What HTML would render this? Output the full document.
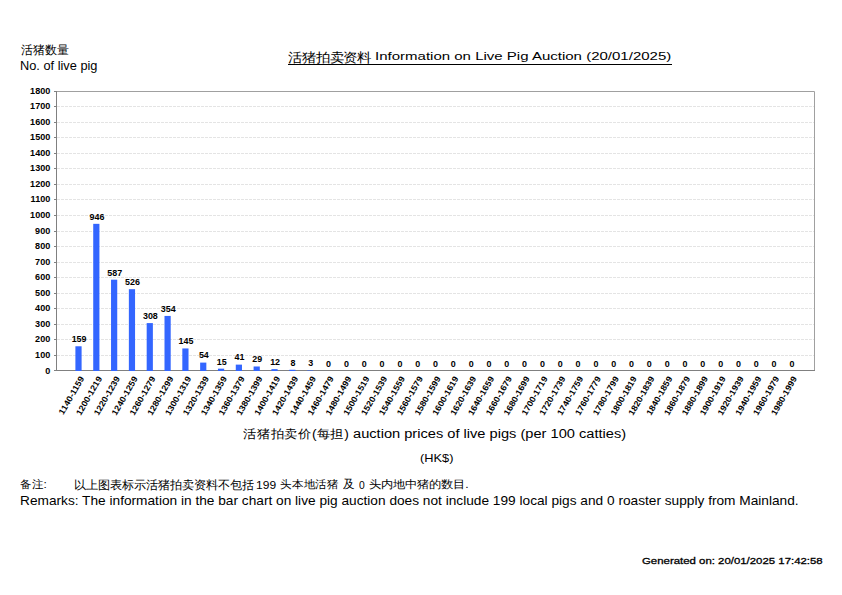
<!DOCTYPE html>
<html><head><meta charset="utf-8"><style>
html,body{margin:0;padding:0;background:#fff;width:842px;height:595px;overflow:hidden}
svg{position:absolute;left:0;top:0}
text{font-family:'Liberation Sans', sans-serif;fill:#000;font-size:8.5px;font-weight:bold}
</style></head><body>
<svg width="842" height="595" viewBox="0 0 842 595">
<line x1="57" y1="355.50" x2="814" y2="355.50" stroke="#e4e4e4" stroke-width="1" stroke-dasharray="3,1"/>
<line x1="57" y1="339.50" x2="814" y2="339.50" stroke="#e4e4e4" stroke-width="1" stroke-dasharray="3,1"/>
<line x1="57" y1="324.50" x2="814" y2="324.50" stroke="#e4e4e4" stroke-width="1" stroke-dasharray="3,1"/>
<line x1="57" y1="308.50" x2="814" y2="308.50" stroke="#e4e4e4" stroke-width="1" stroke-dasharray="3,1"/>
<line x1="57" y1="293.50" x2="814" y2="293.50" stroke="#e4e4e4" stroke-width="1" stroke-dasharray="3,1"/>
<line x1="57" y1="277.50" x2="814" y2="277.50" stroke="#e4e4e4" stroke-width="1" stroke-dasharray="3,1"/>
<line x1="57" y1="262.50" x2="814" y2="262.50" stroke="#e4e4e4" stroke-width="1" stroke-dasharray="3,1"/>
<line x1="57" y1="246.50" x2="814" y2="246.50" stroke="#e4e4e4" stroke-width="1" stroke-dasharray="3,1"/>
<line x1="57" y1="231.50" x2="814" y2="231.50" stroke="#e4e4e4" stroke-width="1" stroke-dasharray="3,1"/>
<line x1="57" y1="215.50" x2="814" y2="215.50" stroke="#e4e4e4" stroke-width="1" stroke-dasharray="3,1"/>
<line x1="57" y1="199.50" x2="814" y2="199.50" stroke="#e4e4e4" stroke-width="1" stroke-dasharray="3,1"/>
<line x1="57" y1="184.50" x2="814" y2="184.50" stroke="#e4e4e4" stroke-width="1" stroke-dasharray="3,1"/>
<line x1="57" y1="168.50" x2="814" y2="168.50" stroke="#e4e4e4" stroke-width="1" stroke-dasharray="3,1"/>
<line x1="57" y1="153.50" x2="814" y2="153.50" stroke="#e4e4e4" stroke-width="1" stroke-dasharray="3,1"/>
<line x1="57" y1="137.50" x2="814" y2="137.50" stroke="#e4e4e4" stroke-width="1" stroke-dasharray="3,1"/>
<line x1="57" y1="122.50" x2="814" y2="122.50" stroke="#e4e4e4" stroke-width="1" stroke-dasharray="3,1"/>
<line x1="57" y1="106.50" x2="814" y2="106.50" stroke="#e4e4e4" stroke-width="1" stroke-dasharray="3,1"/>
<path d="M56 91.5 H814.5 V370.5" fill="none" stroke="#a0a0a0" stroke-width="1"/>
<line x1="56.5" y1="91.0" x2="56.5" y2="371.0" stroke="#808080" stroke-width="1"/>
<line x1="56" y1="370.5" x2="815" y2="370.5" stroke="#808080" stroke-width="1"/>
<line x1="54" y1="370.5" x2="56" y2="370.5" stroke="#808080" stroke-width="1"/>
<text transform="translate(50.3,373.5) scale(1.07,1)" text-anchor="end" class="yl">0</text>
<line x1="54" y1="355.5" x2="56" y2="355.5" stroke="#808080" stroke-width="1"/>
<text transform="translate(50.3,357.9) scale(1.07,1)" text-anchor="end" class="yl">100</text>
<line x1="54" y1="339.5" x2="56" y2="339.5" stroke="#808080" stroke-width="1"/>
<text transform="translate(50.3,342.4) scale(1.07,1)" text-anchor="end" class="yl">200</text>
<line x1="54" y1="324.5" x2="56" y2="324.5" stroke="#808080" stroke-width="1"/>
<text transform="translate(50.3,326.8) scale(1.07,1)" text-anchor="end" class="yl">300</text>
<line x1="54" y1="308.5" x2="56" y2="308.5" stroke="#808080" stroke-width="1"/>
<text transform="translate(50.3,311.3) scale(1.07,1)" text-anchor="end" class="yl">400</text>
<line x1="54" y1="293.5" x2="56" y2="293.5" stroke="#808080" stroke-width="1"/>
<text transform="translate(50.3,295.7) scale(1.07,1)" text-anchor="end" class="yl">500</text>
<line x1="54" y1="277.5" x2="56" y2="277.5" stroke="#808080" stroke-width="1"/>
<text transform="translate(50.3,280.2) scale(1.07,1)" text-anchor="end" class="yl">600</text>
<line x1="54" y1="262.5" x2="56" y2="262.5" stroke="#808080" stroke-width="1"/>
<text transform="translate(50.3,264.6) scale(1.07,1)" text-anchor="end" class="yl">700</text>
<line x1="54" y1="246.5" x2="56" y2="246.5" stroke="#808080" stroke-width="1"/>
<text transform="translate(50.3,249.1) scale(1.07,1)" text-anchor="end" class="yl">800</text>
<line x1="54" y1="231.5" x2="56" y2="231.5" stroke="#808080" stroke-width="1"/>
<text transform="translate(50.3,233.5) scale(1.07,1)" text-anchor="end" class="yl">900</text>
<line x1="54" y1="215.5" x2="56" y2="215.5" stroke="#808080" stroke-width="1"/>
<text transform="translate(50.3,217.9) scale(1.07,1)" text-anchor="end" class="yl">1000</text>
<line x1="54" y1="199.5" x2="56" y2="199.5" stroke="#808080" stroke-width="1"/>
<text transform="translate(50.3,202.4) scale(1.07,1)" text-anchor="end" class="yl">1100</text>
<line x1="54" y1="184.5" x2="56" y2="184.5" stroke="#808080" stroke-width="1"/>
<text transform="translate(50.3,186.8) scale(1.07,1)" text-anchor="end" class="yl">1200</text>
<line x1="54" y1="168.5" x2="56" y2="168.5" stroke="#808080" stroke-width="1"/>
<text transform="translate(50.3,171.3) scale(1.07,1)" text-anchor="end" class="yl">1300</text>
<line x1="54" y1="153.5" x2="56" y2="153.5" stroke="#808080" stroke-width="1"/>
<text transform="translate(50.3,155.7) scale(1.07,1)" text-anchor="end" class="yl">1400</text>
<line x1="54" y1="137.5" x2="56" y2="137.5" stroke="#808080" stroke-width="1"/>
<text transform="translate(50.3,140.2) scale(1.07,1)" text-anchor="end" class="yl">1500</text>
<line x1="54" y1="122.5" x2="56" y2="122.5" stroke="#808080" stroke-width="1"/>
<text transform="translate(50.3,124.6) scale(1.07,1)" text-anchor="end" class="yl">1600</text>
<line x1="54" y1="106.5" x2="56" y2="106.5" stroke="#808080" stroke-width="1"/>
<text transform="translate(50.3,109.1) scale(1.07,1)" text-anchor="end" class="yl">1700</text>
<line x1="54" y1="91.5" x2="56" y2="91.5" stroke="#808080" stroke-width="1"/>
<text transform="translate(50.3,93.5) scale(1.07,1)" text-anchor="end" class="yl">1800</text>
<rect x="75.40" y="346.27" width="6.2" height="24.73" fill="#3366ff"/>
<text transform="translate(79.10,342.1) scale(1.05,1)" text-anchor="middle" class="vl">159</text>
<rect x="93.22" y="223.84" width="6.2" height="147.16" fill="#3366ff"/>
<text transform="translate(96.92,219.6) scale(1.05,1)" text-anchor="middle" class="vl">946</text>
<rect x="111.04" y="279.69" width="6.2" height="91.31" fill="#3366ff"/>
<text transform="translate(114.74,275.5) scale(1.05,1)" text-anchor="middle" class="vl">587</text>
<rect x="128.86" y="289.18" width="6.2" height="81.82" fill="#3366ff"/>
<text transform="translate(132.56,285.0) scale(1.05,1)" text-anchor="middle" class="vl">526</text>
<rect x="146.68" y="323.09" width="6.2" height="47.91" fill="#3366ff"/>
<text transform="translate(150.38,318.9) scale(1.05,1)" text-anchor="middle" class="vl">308</text>
<rect x="164.50" y="315.93" width="6.2" height="55.07" fill="#3366ff"/>
<text transform="translate(168.20,311.7) scale(1.05,1)" text-anchor="middle" class="vl">354</text>
<rect x="182.32" y="348.44" width="6.2" height="22.56" fill="#3366ff"/>
<text transform="translate(186.02,344.2) scale(1.05,1)" text-anchor="middle" class="vl">145</text>
<rect x="200.14" y="362.60" width="6.2" height="8.40" fill="#3366ff"/>
<text transform="translate(203.84,358.4) scale(1.05,1)" text-anchor="middle" class="vl">54</text>
<rect x="217.96" y="368.67" width="6.2" height="2.33" fill="#3366ff"/>
<text transform="translate(221.66,364.5) scale(1.05,1)" text-anchor="middle" class="vl">15</text>
<rect x="235.78" y="364.62" width="6.2" height="6.38" fill="#3366ff"/>
<text transform="translate(239.48,360.4) scale(1.05,1)" text-anchor="middle" class="vl">41</text>
<rect x="253.60" y="366.49" width="6.2" height="4.51" fill="#3366ff"/>
<text transform="translate(257.30,362.3) scale(1.05,1)" text-anchor="middle" class="vl">29</text>
<rect x="271.42" y="369.13" width="6.2" height="1.87" fill="#3366ff"/>
<text transform="translate(275.12,364.9) scale(1.05,1)" text-anchor="middle" class="vl">12</text>
<rect x="289.24" y="369.76" width="6.2" height="1.24" fill="#3366ff"/>
<text transform="translate(292.94,365.6) scale(1.05,1)" text-anchor="middle" class="vl">8</text>
<rect x="307.06" y="370.53" width="6.2" height="0.47" fill="#3366ff"/>
<text transform="translate(310.76,366.3) scale(1.05,1)" text-anchor="middle" class="vl">3</text>
<text transform="translate(328.58,366.8) scale(1.05,1)" text-anchor="middle" class="vl">0</text>
<text transform="translate(346.40,366.8) scale(1.05,1)" text-anchor="middle" class="vl">0</text>
<text transform="translate(364.22,366.8) scale(1.05,1)" text-anchor="middle" class="vl">0</text>
<text transform="translate(382.04,366.8) scale(1.05,1)" text-anchor="middle" class="vl">0</text>
<text transform="translate(399.86,366.8) scale(1.05,1)" text-anchor="middle" class="vl">0</text>
<text transform="translate(417.68,366.8) scale(1.05,1)" text-anchor="middle" class="vl">0</text>
<text transform="translate(435.50,366.8) scale(1.05,1)" text-anchor="middle" class="vl">0</text>
<text transform="translate(453.32,366.8) scale(1.05,1)" text-anchor="middle" class="vl">0</text>
<text transform="translate(471.14,366.8) scale(1.05,1)" text-anchor="middle" class="vl">0</text>
<text transform="translate(488.96,366.8) scale(1.05,1)" text-anchor="middle" class="vl">0</text>
<text transform="translate(506.78,366.8) scale(1.05,1)" text-anchor="middle" class="vl">0</text>
<text transform="translate(524.60,366.8) scale(1.05,1)" text-anchor="middle" class="vl">0</text>
<text transform="translate(542.42,366.8) scale(1.05,1)" text-anchor="middle" class="vl">0</text>
<text transform="translate(560.24,366.8) scale(1.05,1)" text-anchor="middle" class="vl">0</text>
<text transform="translate(578.06,366.8) scale(1.05,1)" text-anchor="middle" class="vl">0</text>
<text transform="translate(595.88,366.8) scale(1.05,1)" text-anchor="middle" class="vl">0</text>
<text transform="translate(613.70,366.8) scale(1.05,1)" text-anchor="middle" class="vl">0</text>
<text transform="translate(631.52,366.8) scale(1.05,1)" text-anchor="middle" class="vl">0</text>
<text transform="translate(649.34,366.8) scale(1.05,1)" text-anchor="middle" class="vl">0</text>
<text transform="translate(667.16,366.8) scale(1.05,1)" text-anchor="middle" class="vl">0</text>
<text transform="translate(684.98,366.8) scale(1.05,1)" text-anchor="middle" class="vl">0</text>
<text transform="translate(702.80,366.8) scale(1.05,1)" text-anchor="middle" class="vl">0</text>
<text transform="translate(720.62,366.8) scale(1.05,1)" text-anchor="middle" class="vl">0</text>
<text transform="translate(738.44,366.8) scale(1.05,1)" text-anchor="middle" class="vl">0</text>
<text transform="translate(756.26,366.8) scale(1.05,1)" text-anchor="middle" class="vl">0</text>
<text transform="translate(774.08,366.8) scale(1.05,1)" text-anchor="middle" class="vl">0</text>
<text transform="translate(791.90,366.8) scale(1.05,1)" text-anchor="middle" class="vl">0</text>
<text transform="translate(84.60,378.4) rotate(-60) scale(1.07,1)" text-anchor="end" class="xl">1140-1159</text>
<text transform="translate(102.42,378.4) rotate(-60) scale(1.07,1)" text-anchor="end" class="xl">1200-1219</text>
<text transform="translate(120.24,378.4) rotate(-60) scale(1.07,1)" text-anchor="end" class="xl">1220-1239</text>
<text transform="translate(138.06,378.4) rotate(-60) scale(1.07,1)" text-anchor="end" class="xl">1240-1259</text>
<text transform="translate(155.88,378.4) rotate(-60) scale(1.07,1)" text-anchor="end" class="xl">1260-1279</text>
<text transform="translate(173.70,378.4) rotate(-60) scale(1.07,1)" text-anchor="end" class="xl">1280-1299</text>
<text transform="translate(191.52,378.4) rotate(-60) scale(1.07,1)" text-anchor="end" class="xl">1300-1319</text>
<text transform="translate(209.34,378.4) rotate(-60) scale(1.07,1)" text-anchor="end" class="xl">1320-1339</text>
<text transform="translate(227.16,378.4) rotate(-60) scale(1.07,1)" text-anchor="end" class="xl">1340-1359</text>
<text transform="translate(244.98,378.4) rotate(-60) scale(1.07,1)" text-anchor="end" class="xl">1360-1379</text>
<text transform="translate(262.80,378.4) rotate(-60) scale(1.07,1)" text-anchor="end" class="xl">1380-1399</text>
<text transform="translate(280.62,378.4) rotate(-60) scale(1.07,1)" text-anchor="end" class="xl">1400-1419</text>
<text transform="translate(298.44,378.4) rotate(-60) scale(1.07,1)" text-anchor="end" class="xl">1420-1439</text>
<text transform="translate(316.26,378.4) rotate(-60) scale(1.07,1)" text-anchor="end" class="xl">1440-1459</text>
<text transform="translate(334.08,378.4) rotate(-60) scale(1.07,1)" text-anchor="end" class="xl">1460-1479</text>
<text transform="translate(351.90,378.4) rotate(-60) scale(1.07,1)" text-anchor="end" class="xl">1480-1499</text>
<text transform="translate(369.72,378.4) rotate(-60) scale(1.07,1)" text-anchor="end" class="xl">1500-1519</text>
<text transform="translate(387.54,378.4) rotate(-60) scale(1.07,1)" text-anchor="end" class="xl">1520-1539</text>
<text transform="translate(405.36,378.4) rotate(-60) scale(1.07,1)" text-anchor="end" class="xl">1540-1559</text>
<text transform="translate(423.18,378.4) rotate(-60) scale(1.07,1)" text-anchor="end" class="xl">1560-1579</text>
<text transform="translate(441.00,378.4) rotate(-60) scale(1.07,1)" text-anchor="end" class="xl">1580-1599</text>
<text transform="translate(458.82,378.4) rotate(-60) scale(1.07,1)" text-anchor="end" class="xl">1600-1619</text>
<text transform="translate(476.64,378.4) rotate(-60) scale(1.07,1)" text-anchor="end" class="xl">1620-1639</text>
<text transform="translate(494.46,378.4) rotate(-60) scale(1.07,1)" text-anchor="end" class="xl">1640-1659</text>
<text transform="translate(512.28,378.4) rotate(-60) scale(1.07,1)" text-anchor="end" class="xl">1660-1679</text>
<text transform="translate(530.10,378.4) rotate(-60) scale(1.07,1)" text-anchor="end" class="xl">1680-1699</text>
<text transform="translate(547.92,378.4) rotate(-60) scale(1.07,1)" text-anchor="end" class="xl">1700-1719</text>
<text transform="translate(565.74,378.4) rotate(-60) scale(1.07,1)" text-anchor="end" class="xl">1720-1739</text>
<text transform="translate(583.56,378.4) rotate(-60) scale(1.07,1)" text-anchor="end" class="xl">1740-1759</text>
<text transform="translate(601.38,378.4) rotate(-60) scale(1.07,1)" text-anchor="end" class="xl">1760-1779</text>
<text transform="translate(619.20,378.4) rotate(-60) scale(1.07,1)" text-anchor="end" class="xl">1780-1799</text>
<text transform="translate(637.02,378.4) rotate(-60) scale(1.07,1)" text-anchor="end" class="xl">1800-1819</text>
<text transform="translate(654.84,378.4) rotate(-60) scale(1.07,1)" text-anchor="end" class="xl">1820-1839</text>
<text transform="translate(672.66,378.4) rotate(-60) scale(1.07,1)" text-anchor="end" class="xl">1840-1859</text>
<text transform="translate(690.48,378.4) rotate(-60) scale(1.07,1)" text-anchor="end" class="xl">1860-1879</text>
<text transform="translate(708.30,378.4) rotate(-60) scale(1.07,1)" text-anchor="end" class="xl">1880-1899</text>
<text transform="translate(726.12,378.4) rotate(-60) scale(1.07,1)" text-anchor="end" class="xl">1900-1919</text>
<text transform="translate(743.94,378.4) rotate(-60) scale(1.07,1)" text-anchor="end" class="xl">1920-1939</text>
<text transform="translate(761.76,378.4) rotate(-60) scale(1.07,1)" text-anchor="end" class="xl">1940-1959</text>
<text transform="translate(779.58,378.4) rotate(-60) scale(1.07,1)" text-anchor="end" class="xl">1960-1979</text>
<text transform="translate(797.40,378.4) rotate(-60) scale(1.07,1)" text-anchor="end" class="xl">1980-1999</text>
</svg>
<div style="position:absolute;left:21.00px;top:44.20px;font-size:12.00px;transform-origin:0 0;transform:scale(1.0000,1.0000);white-space:nowrap;line-height:1;font-family:'Liberation Sans', sans-serif;font-weight:400;">活猪数量</div>
<div style="position:absolute;left:20.20px;top:58.66px;font-size:14.00px;transform-origin:0 0;transform:scale(0.9134,0.9093);white-space:nowrap;line-height:1;font-family:'Liberation Sans', sans-serif;font-weight:400;">No. of live pig</div>
<div style="position:absolute;left:288.20px;top:51.20px;font-size:14.00px;transform-origin:0 0;transform:scale(0.9886,0.8933);white-space:nowrap;line-height:1;font-family:'Liberation Sans', sans-serif;font-weight:400;">活猪拍卖资料</div>
<div style="position:absolute;left:375.20px;top:50.60px;font-size:12.00px;transform-origin:0 0;transform:scale(1.2511,0.9476);white-space:nowrap;line-height:1;font-family:'Liberation Sans', sans-serif;font-weight:400;">Information on Live Pig Auction (20/01/2025)</div>
<div style="position:absolute;left:243.20px;top:427.26px;font-size:15.00px;transform-origin:0 0;transform:scale(0.9204,0.8271);white-space:nowrap;line-height:1;font-family:'Liberation Sans', sans-serif;font-weight:400;">活猪拍卖价(每担)</div>
<div style="position:absolute;left:353.24px;top:426.50px;font-size:14.00px;transform-origin:0 0;transform:scale(1.0446,0.9509);white-space:nowrap;line-height:1;font-family:'Liberation Sans', sans-serif;font-weight:400;">auction prices of live pigs (per 100 catties)</div>
<div style="position:absolute;left:420.20px;top:452.60px;font-size:12.00px;transform-origin:0 0;transform:scale(1.0667,0.9476);white-space:nowrap;line-height:1;font-family:'Liberation Sans', sans-serif;font-weight:400;">(HK$)</div>
<div style="position:absolute;left:20.20px;top:479.26px;font-size:12.00px;transform-origin:0 0;transform:scale(0.9816,0.9434);white-space:nowrap;line-height:1;font-family:'Liberation Sans', sans-serif;font-weight:400;">备注:</div>
<div style="position:absolute;left:74.20px;top:479.26px;font-size:12.00px;transform-origin:0 0;transform:scale(0.9990,0.9851);white-space:nowrap;line-height:1;font-family:'Liberation Sans', sans-serif;font-weight:400;">以上图表标示活猪拍卖资料不包括</div>
<div style="position:absolute;left:256.36px;top:480.50px;font-size:8.00px;transform-origin:0 0;transform:scale(1.5042,1.2955);white-space:nowrap;line-height:1;font-family:'Liberation Sans', sans-serif;font-weight:400;">199</div>
<div style="position:absolute;left:280.36px;top:479.26px;font-size:12.00px;transform-origin:0 0;transform:scale(0.9849,0.9434);white-space:nowrap;line-height:1;font-family:'Liberation Sans', sans-serif;font-weight:400;">头本地活猪</div>
<div style="position:absolute;left:342.96px;top:478.46px;font-size:12.00px;transform-origin:0 0;transform:scale(0.9964,1.0378);white-space:nowrap;line-height:1;font-family:'Liberation Sans', sans-serif;font-weight:400;">及</div>
<div style="position:absolute;left:359.10px;top:480.50px;font-size:8.00px;transform-origin:0 0;transform:scale(1.2894,1.2955);white-space:nowrap;line-height:1;font-family:'Liberation Sans', sans-serif;font-weight:400;">0</div>
<div style="position:absolute;left:369.24px;top:479.26px;font-size:12.00px;transform-origin:0 0;transform:scale(1.0032,0.8971);white-space:nowrap;line-height:1;font-family:'Liberation Sans', sans-serif;font-weight:400;">头内地中猪的数目.</div>
<div style="position:absolute;left:20.26px;top:493.80px;font-size:13.00px;transform-origin:0 0;transform:scale(1.0526,0.9818);white-space:nowrap;line-height:1;font-family:'Liberation Sans', sans-serif;font-weight:400;">Remarks: The information in the bar chart on live pig auction does not include 199 local pigs and 0 roaster supply from Mainland.</div>
<div style="position:absolute;left:642.00px;top:557.20px;font-size:8.00px;transform-origin:0 0;transform:scale(1.4252,1.2250);white-space:nowrap;line-height:1;font-family:'Liberation Sans', sans-serif;font-weight:400;-webkit-text-stroke:0.25px #000">Generated on: 20/01/2025 17:42:58</div>
<div style="position:absolute;left:288px;top:64px;width:384px;height:1px;background:#000"></div>
</body></html>
